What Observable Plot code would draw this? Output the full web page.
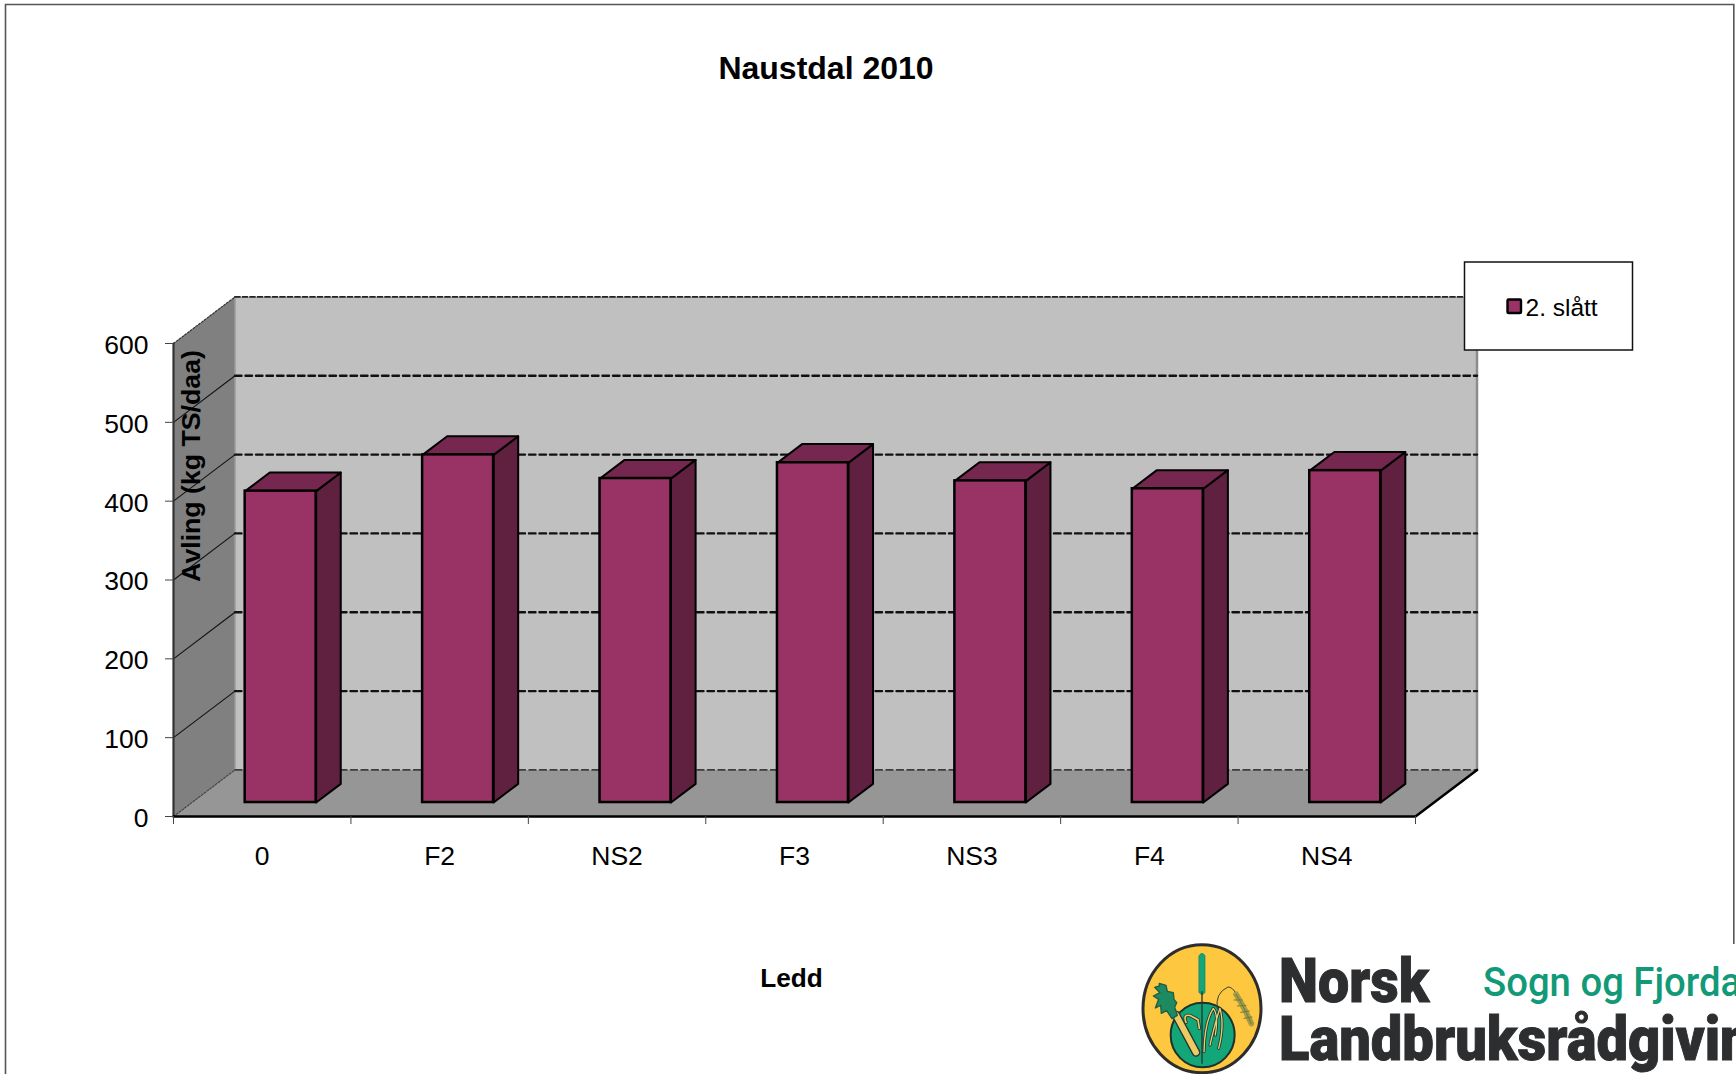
<!DOCTYPE html>
<html>
<head>
<meta charset="utf-8">
<script src="https://cdn.jsdelivr.net/npm/d3@7"></script>
<script src="https://cdn.jsdelivr.net/npm/@observablehq/plot@0.6"></script>
<style>
html,body{margin:0;padding:0;background:#fff;width:1736px;height:1074px;overflow:hidden}
#chart,#over{position:absolute;left:0;top:0}
#over text{font-family:"Liberation Sans",Arial,sans-serif;fill:#000}
</style>
</head>
<body>
<div id="chart"></div>
<svg id="over" width="1736" height="1074" viewBox="0 0 1736 1074" xmlns="http://www.w3.org/2000/svg">
  <g stroke="#555" stroke-width="1.6" fill="none">
    <path d="M5.5 1074V4.5H1733.8V944"/>
  </g>
  <text x="826" y="79" text-anchor="middle" font-size="32" font-weight="700">Naustdal 2010</text>
  <text transform="translate(200,466) rotate(-90)" text-anchor="middle" font-size="26.7" font-weight="700">Avling (kg TS/daa)</text>
  <text x="791.5" y="987" text-anchor="middle" font-size="26.2" font-weight="700">Ledd</text>

  <rect x="1464.5" y="262" width="168" height="88" fill="#fff" stroke="#111" stroke-width="1.5"/>
  <rect x="1507.5" y="299.5" width="13.5" height="13.5" fill="#993366" stroke="#000" stroke-width="2.4" rx="1"/>
  <text x="1525.5" y="315.5" font-size="24.5">2. slått</text>

  <g id="logo">
    <rect x="1136" y="944" width="600" height="130" fill="#fff"/>
    <g transform="translate(1130,935) scale(.33333)" fill="none" stroke-linecap="round" stroke-linejoin="round">
      <ellipse cx="216" cy="221" rx="177" ry="192" fill="#fdc83f" stroke="#2d2d2d" stroke-width="9"/>
      <ellipse cx="218" cy="300" rx="96" ry="97" fill="#12a679" stroke="#20302a" stroke-width="6"/>
      <path d="M207 62q9-14 18 0V172q-9 14-18 0z" fill="#12a679" stroke="#1e7d5f" stroke-width="2"/>
      <path d="M216 170V385" stroke="#24362f" stroke-width="4"/>
      <path d="M138 240L198 352" stroke="#24362f" stroke-width="26"/>
      <path d="M138 240L198 352" stroke="#edcb62" stroke-width="18"/>
      <path d="M88 145l20 6 4 18 18 4 2 20 8 10-6 14 8 24-16 10-16-24-16 8-2-24-16 8 10-26-16-10 20-10-16-16 14-4z" fill="#1d8a62" stroke="#1f5d47" stroke-width="4"/>
      <path d="M168 262q-10-26 14-20l22 12 4 26" stroke="#24362f" stroke-width="10"/>
      <path d="M168 262q-10-26 14-20l22 12 4 26" stroke="#edcb62" stroke-width="5"/>
      <path d="M222 350q2-90 28-130 16 20 6 80M240 330q16-70 30-110 14 50-4 120" stroke="#24362f" stroke-width="9"/>
      <path d="M222 350q2-90 28-130 16 20 6 80M240 330q16-70 30-110 14 50-4 120" stroke="#e7cf78" stroke-width="4"/>
      <path d="M262 222q-8-48 32-66 14 0 24 20" stroke="#33432f" stroke-width="3"/>
      <path d="M318 178q22 34 46 88" stroke="#a39a4a" stroke-width="17"/>
      <path d="M318 178q22 34 46 88M312 195l24 0M322 213l26-2M332 232l26-4M342 250l24-4" stroke="#6d7a3d" stroke-width="3"/>
    </g>
    <text x="1279" y="1002" font-size="62" font-weight="900" stroke="#2d2e30" stroke-width="1" style="font-family:Roboto;fill:#2d2e30" textLength="150" lengthAdjust="spacingAndGlyphs">Norsk</text>
    <text x="1483" y="996" font-size="41" font-weight="500" style="font-family:Roboto;fill:#129a78" textLength="300" lengthAdjust="spacingAndGlyphs">Sogn og Fjordane</text>
    <text x="1279" y="1060" font-size="62" font-weight="900" stroke="#2d2e30" stroke-width="1" style="font-family:Roboto;fill:#2d2e30" textLength="505" lengthAdjust="spacingAndGlyphs">Landbruksrådgiving</text>
  </g>
</svg>
<script>
const categories = ["0", "F2", "NS2", "F3", "NS3", "F4", "NS4"];
const slatt2 = [395, 441, 411, 431, 408, 398, 421];
const yTicks = [0, 100, 200, 300, 400, 500, 600];
const xEdges = [0, 1, 2, 3, 4, 5, 6, 7];
const xCentres = [0.5, 1.5, 2.5, 3.5, 4.5, 5.5, 6.5];

// oblique projection of the 3-D box, in scale units: depth z runs 0..1
const depthX = 0.3466, depthY = 59.1;
const P = (x, y, z, id) => ({x: x + z * depthX, y: y + z * depthY, id});
const poly = (id, ...pts) => pts.concat([pts[0]]).map(([x, y, z]) => P(x, y, z, id));

const barLeft = 0.3, barRight = 0.7, zFront = 0.3, zBack = 0.7;
const bars = categories.map((c, i) => ({c, i, v: slatt2[i]}));

const frontRects = bars.map(b => ({
  x1: b.i + barLeft + zFront * depthX,
  x2: b.i + barRight + zFront * depthX,
  y1: zFront * depthY,
  y2: b.v + zFront * depthY
}));
const sideFaces = bars.flatMap(b => poly("s" + b.i,
  [b.i + barRight, 0, zFront], [b.i + barRight, 0, zBack],
  [b.i + barRight, b.v, zBack], [b.i + barRight, b.v, zFront]));
const topFaces = bars.flatMap(b => poly("t" + b.i,
  [b.i + barLeft, b.v, zFront], [b.i + barRight, b.v, zFront],
  [b.i + barRight, b.v, zBack], [b.i + barLeft, b.v, zBack]));

const backWall = poly("b", [0, 0, 1], [7, 0, 1], [7, 600, 1], [0, 600, 1]);
const leftWall = poly("l", [0, 0, 0], [0, 0, 1], [0, 600, 1], [0, 600, 0]);
const floor = poly("f", [0, 0, 0], [7, 0, 0], [7, 0, 1], [0, 0, 1]);
const segs = (vals, f) => vals.flatMap(v => f(v));
const backGrid = segs([100, 200, 300, 400, 500], v => [P(0, v, 1, v), P(7, v, 1, v)]);
const wallGrid = segs([100, 200, 300, 400, 500], v => [P(0, v, 0, v), P(0, v, 1, v)]);

const plot = Plot.plot({
  width: 1736, height: 1074,
  marginLeft: 173, marginRight: 321, marginTop: 343, marginBottom: 258,
  style: {fontFamily: "'Liberation Sans', Arial, sans-serif", background: "transparent", color: "#000", overflow: "visible"},
  x: {type: "linear", domain: [0, 7], label: null},
  y: {type: "linear", domain: [0, 600], label: null},
  marks: [
    Plot.line(backWall, {x: "x", y: "y", fill: "#c0c0c0", stroke: "none"}),
    Plot.line(leftWall, {x: "x", y: "y", fill: "#808080", stroke: "none"}),
    Plot.line(floor, {x: "x", y: "y", fill: "#969696", stroke: "none"}),
    // back-wall edges and grid
    Plot.line([P(7, 0, 1), P(7, 600, 1)], {x: "x", y: "y", stroke: "#8c8c8c", strokeWidth: 2.5}),
    Plot.line([P(0, 0, 1), P(0, 600, 1)], {x: "x", y: "y", stroke: "#9a9a9a", strokeWidth: 1.5}),
    Plot.line(backGrid, {x: "x", y: "y", z: "id", stroke: "#111", strokeWidth: 2.4, strokeDasharray: "6.5,4"}),
    Plot.line([P(0, 600, 1), P(7, 600, 1)], {x: "x", y: "y", stroke: "#222", strokeWidth: 1.8, strokeDasharray: "5,2.5"}),
    Plot.line([P(0, 0, 1), P(7, 0, 1)], {x: "x", y: "y", stroke: "#111", strokeWidth: 1.3, strokeDasharray: "7,3.5"}),
    Plot.line(wallGrid, {x: "x", y: "y", z: "id", stroke: "#111", strokeWidth: 1.1}),
    Plot.line([P(0, 600, 0), P(0, 600, 1)], {x: "x", y: "y", stroke: "#333", strokeWidth: 1.2, strokeDasharray: "2,1.5"}),
    Plot.line([P(0, 0, 0), P(0, 0, 1)], {x: "x", y: "y", stroke: "#444", strokeWidth: 1.2, strokeDasharray: "2,1.5"}),
    // bars
    Plot.line(sideFaces, {x: "x", y: "y", z: "id", fill: "#60203f", stroke: "#000", strokeWidth: 2, strokeLinejoin: "round"}),
    Plot.line(topFaces, {x: "x", y: "y", z: "id", fill: "#76274f", stroke: "#000", strokeWidth: 2, strokeLinejoin: "round"}),
    Plot.rect(frontRects, {x1: "x1", x2: "x2", y1: "y1", y2: "y2", fill: "#993366", stroke: "#000", strokeWidth: 2.5}),
    // axes
    Plot.line([P(0, 0, 0), P(0, 600, 0)], {x: "x", y: "y", stroke: "#333", strokeWidth: 2.2}),
    Plot.line([P(0, 0, 0), P(7, 0, 0), P(7, 0, 1)], {x: "x", y: "y", stroke: "#000", strokeWidth: 2.5}),
    Plot.axisY({ticks: yTicks, tickSize: 8, stroke: "#444", label: null, tickFormat: () => ""}),
    Plot.axisY({ticks: yTicks, tickSize: 0, tickPadding: 25, dy: 2, fontSize: 26.5, label: null, tickFormat: d => String(d)}),
    Plot.axisX({ticks: xEdges, tickSize: 8, stroke: "#444", label: null, tickFormat: () => ""}),
    Plot.axisX({ticks: xCentres, tickSize: 0, tickPadding: 30, fontSize: 26.5, label: null, tickFormat: v => categories[Math.floor(v)]})
  ]
});
document.getElementById("chart").appendChild(plot);
</script>
</body>
</html>
